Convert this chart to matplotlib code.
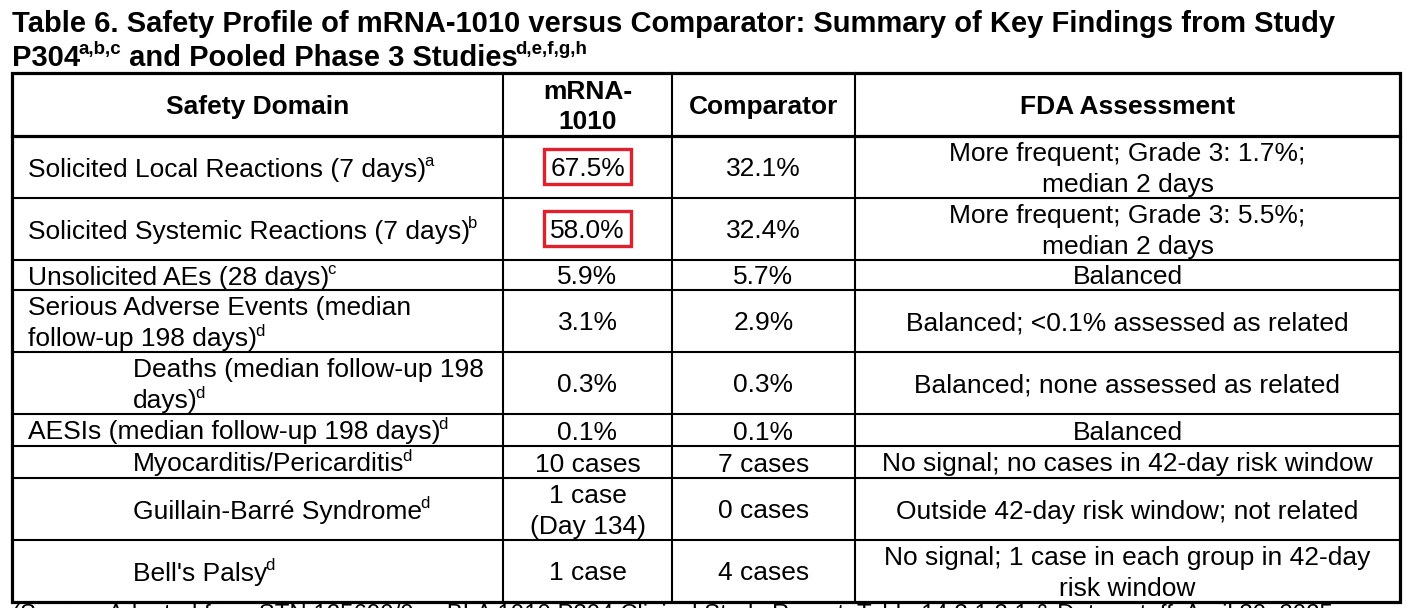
import matplotlib
matplotlib.use("Agg")
import matplotlib.pyplot as plt
from matplotlib.patches import Rectangle

plt.rcParams['font.family'] = ['Liberation Sans', 'DejaVu Sans']

# table content
title_1 = "Table 6. Safety Profile of mRNA-1010 versus Comparator: Summary of Key Findings from Study"
title_2 = [("P304", None), ("a,b,c", "sup"), (" and Pooled Phase 3 Studies", None), ("d,e,f,g,h", "sup")]
headers = [["Safety Domain"], ["mRNA-", "1010"], ["Comparator"], ["FDA Assessment"]]

domains = [
    ["Solicited Local Reactions (7 days)"],
    ["Solicited Systemic Reactions (7 days)"],
    ["Unsolicited AEs (28 days)"],
    ["Serious Adverse Events (median", "follow-up 198 days)"],
    ["Deaths (median follow-up 198", "days)"],
    ["AESIs (median follow-up 198 days)"],
    ["Myocarditis/Pericarditis"],
    ["Guillain-Barré Syndrome"],
    ["Bell's Palsy"],
]
notes = ["a", "b", "c", "d", "d", "d", "d", "d", "d"]
indented = [False, False, False, False, True, False, True, True, True]
mrna = [["67.5%"], ["58.0%"], ["5.9%"], ["3.1%"], ["0.3%"], ["0.1%"],
        ["10 cases"], ["1 case", "(Day 134)"], ["1 case"]]
comparator = [["32.1%"], ["32.4%"], ["5.7%"], ["2.9%"], ["0.3%"], ["0.1%"],
              ["7 cases"], ["0 cases"], ["4 cases"]]
assessment = [
    ["More frequent; Grade 3: 1.7%;", "median 2 days"],
    ["More frequent; Grade 3: 5.5%;", "median 2 days"],
    ["Balanced"],
    ["Balanced; <0.1% assessed as related"],
    ["Balanced; none assessed as related"],
    ["Balanced"],
    ["No signal; no cases in 42-day risk window"],
    ["Outside 42-day risk window; not related"],
    ["No signal; 1 case in each group in 42-day", "risk window"],
]
highlighted = [0, 1]   # rows with red box on the mRNA-1010 value
source = ("(Source: Adapted from STN 125690/0 ... BLA 1010 P304 Clinical Study Report, "
          "Table 14.3.1.2.1 & Data cutoff: April 30, 2025")

# layout in pixels
W, H = 1413, 608
col_x = [12, 503, 672, 855, 1400]
row_y = [73, 136, 198, 260, 290, 352, 414, 446, 478, 540, 602]
fs = 19
fs_sup = 12
fs_title = 21
line_h = 30.5

fig = plt.figure(figsize=(W / 100, H / 100), dpi=100)
ax = fig.add_axes([0, 0, 1, 1])
ax.set_xlim(0, W)
ax.set_ylim(H, 0)
ax.axis('off')
renderer = fig.canvas.get_renderer()


def width_of(s, size, weight='normal'):
    t = ax.text(0, 0, s, fontsize=size, fontweight=weight)
    w = t.get_window_extent(renderer).width
    t.remove()
    return w


def put_line(x, y, s, sup=None, size=fs, weight='normal', ha='left'):
    # y is the visual middle of the line, baseline is a bit lower
    base = y + size * 100 / 72 * 0.36
    w = width_of(s, size, weight)
    ws = width_of(sup, fs_sup, weight) - 2 if sup else 0
    if ha == 'center':
        x = x - (w + ws) / 2
    ax.text(x, base, s, fontsize=size, fontweight=weight, va='baseline')
    if sup:
        ax.text(x + w - 2, base - size * 100 / 72 * 0.38, sup, fontsize=fs_sup,
                fontweight=weight, va='baseline')
    return x, w


def put_cell(lines, x, ymid, sup=None, weight='normal', ha='center'):
    n = len(lines)
    res = []
    for i, s in enumerate(lines):
        y = ymid + (i - (n - 1) / 2) * line_h
        res.append(put_line(x, y, s, sup if i == n - 1 else None, weight=weight, ha=ha))
    return res


# title
put_line(12, 22, title_1, size=fs_title, weight='bold')
x = 12
tb = 55 + fs_title * 100 / 72 * 0.36
for s, kind in title_2:
    if kind == 'sup':
        t = ax.text(x - 1, tb - fs_title * 100 / 72 * 0.38, s,
                    fontsize=13.5, fontweight='bold', va='baseline')
    else:
        t = ax.text(x, tb, s, fontsize=fs_title, fontweight='bold', va='baseline')
    x += t.get_window_extent(renderer).width - 1

# grid lines
thick, thin = 2.3, 1.5
ax.add_patch(Rectangle((col_x[0], row_y[0]), col_x[-1] - col_x[0], row_y[-1] - row_y[0],
                       fill=False, lw=thick, ec='black'))
for cx in col_x[1:-1]:
    ax.plot([cx, cx], [row_y[0], row_y[-1]], color='black', lw=thin)
for i, ry in enumerate(row_y[1:-1]):
    ax.plot([col_x[0], col_x[-1]], [ry, ry], color='black', lw=thick if i == 0 else thin)

# header
centers = [(col_x[i] + col_x[i + 1]) / 2 for i in range(4)]
hy = (row_y[0] + row_y[1]) / 2
for c, h in zip(centers, headers):
    put_cell(h, c, hy, weight='bold')

# body
for r in range(len(domains)):
    ymid = (row_y[r + 1] + row_y[r + 2]) / 2
    left = 133 if indented[r] else 28
    put_cell(domains[r], left, ymid, sup=notes[r], ha='left')
    placed = put_cell(mrna[r], centers[1], ymid)
    put_cell(comparator[r], centers[2], ymid)
    put_cell(assessment[r], centers[3], ymid)
    if r in highlighted:
        x0, w = placed[0]
        ax.add_patch(Rectangle((x0 - 6, ymid - 18.5), w + 12, 35, fill=False,
                               lw=2.4, ec='#e0202c', zorder=5))

# source line, cut off at the bottom edge like the reference
src_fs = fs * (1335 - 12) / width_of(source, fs)
ax.text(12, H + 13, source, fontsize=src_fs, va='baseline')

fig.savefig("out.png", dpi=100)
